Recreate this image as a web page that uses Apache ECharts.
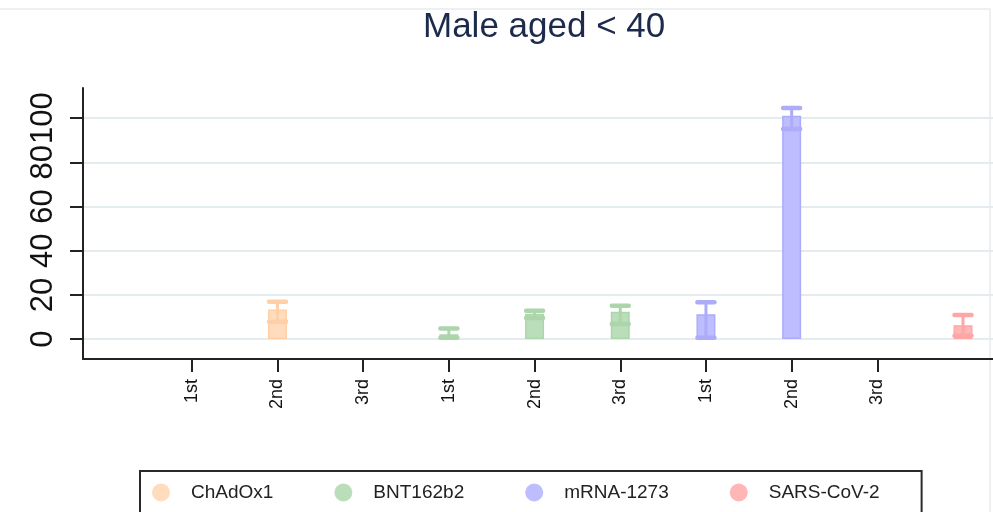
<!DOCTYPE html>
<html>
<head>
<meta charset="utf-8">
<script src="https://cdn.jsdelivr.net/npm/echarts@6/dist/echarts.min.js"></script>
<style>
html,body{margin:0;padding:0;background:#fff;}
#chart{width:993px;height:512px;}
</style>
</head>
<body>
<div id="chart"></div>
<script>
// ---- data ----
const titleText = 'Male aged < 40';
const tickLabels = ['1st', '2nd', '3rd', '1st', '2nd', '3rd', '1st', '2nd', '3rd'];
const yTicks = [0, 20, 40, 60, 80, 100];
const seriesNames = ['ChAdOx1', 'BNT162b2', 'mRNA-1273', 'SARS-CoV-2'];

const chadox1Values = [null, 13.4, null];
const chadox1Lower  = [null, 7.8, null];
const chadox1Upper  = [null, 16.9, null];

const bnt162b2Values = [2.2, 11.5, 12.4];
const bnt162b2Lower  = [0.6, 9.6, 6.8];
const bnt162b2Upper  = [4.8, 12.8, 15.1];

const mrna1273Values = [11.3, 101, null];
const mrna1273Lower  = [0.6, 95, null];
const mrna1273Upper  = [16.7, 104.5, null];

const sarsValues = [6.3];
const sarsLower  = [1.5];
const sarsUpper  = [10.9];

// ---- styles ----
const fills = ['#ffdcbd', '#badeba', '#bdbdff', '#ffb6b6'];
const edges = ['#ffd0a8', '#acd5ac', '#acacf8', '#ffa6a6'];

const groups = [
  [chadox1Values, chadox1Lower, chadox1Upper],
  [bnt162b2Values, bnt162b2Lower, bnt162b2Upper],
  [mrna1273Values, mrna1273Lower, mrna1273Upper],
  [sarsValues, sarsLower, sarsUpper]
];

const series = [];
groups.forEach(function (g, gi) {
  const bars = [], errs = [];
  g[0].forEach(function (v, i) {
    const pos = gi * 3 + i + 1;
    if (v !== null) {
      bars.push([pos, v]);
      errs.push([pos, g[1][i], g[2][i]]);
    }
  });
  series.push({
    name: seriesNames[gi], type: 'bar', data: bars, barWidth: 19, barGap: '-100%',
    itemStyle: { color: fills[gi], borderColor: edges[gi], borderWidth: 1.5 },
    z: 2
  });
  series.push({
    name: seriesNames[gi], type: 'custom', data: errs, z: 3,
    encode: { x: 0, y: [1, 2] },
    itemStyle: { color: fills[gi] },
    renderItem: function (params, api) {
      const x = api.value(0);
      const lo = api.coord([x, api.value(1)]);
      const hi = api.coord([x, api.value(2)]);
      const hw = 8.5;
      const c = edges[gi];
      return {
        type: 'group',
        children: [
          { type: 'line', shape: { x1: lo[0], y1: lo[1], x2: hi[0], y2: hi[1] }, style: { stroke: c, lineWidth: 3 } },
          { type: 'line', shape: { x1: hi[0] - hw, y1: hi[1], x2: hi[0] + hw, y2: hi[1] }, style: { stroke: c, lineWidth: 4.5, lineCap: 'round' } },
          { type: 'line', shape: { x1: lo[0] - hw, y1: lo[1], x2: lo[0] + hw, y2: lo[1] }, style: { stroke: c, lineWidth: 4.5, lineCap: 'round' } }
        ]
      };
    }
  });
});

const xTickPositions = tickLabels.map(function (_, i) { return i + 1; });

const chart = echarts.init(document.getElementById('chart'));
chart.setOption({
  backgroundColor: '#ffffff',
  animation: false,
  textStyle: { fontFamily: 'Liberation Sans, Arial, sans-serif' },
  title: {
    text: titleText, left: 418, top: 5,
    textStyle: { fontSize: 35, fontWeight: 'normal', color: '#1c2a4b', fontFamily: 'Liberation Sans, Arial, sans-serif' }
  },
  grid: { left: 83, right: 0, top: 88, bottom: 153 },
  legend: {
    data: seriesNames,
    left: 140, top: 471,
    icon: 'circle', itemWidth: 20, itemHeight: 18, itemGap: 61,
    padding: [12, 42, 40, 12],
    borderColor: '#2a2a2a', borderWidth: 2, backgroundColor: '#fff',
    textStyle: { fontSize: 19, color: '#222', padding: [0, 0, 0, 15], fontFamily: 'Liberation Sans, Arial, sans-serif' },
    itemStyle: { borderWidth: 0 }
  },
  xAxis: {
    type: 'value', min: -0.27, max: 10.35,
    axisLine: { show: true, onZero: false, lineStyle: { color: '#222', width: 2 } },
    axisTick: { show: true, customValues: xTickPositions, length: 13, lineStyle: { color: '#222', width: 2 } },
    axisLabel: {
      customValues: xTickPositions, rotate: 90, fontSize: 18, margin: 20, color: '#111',
      formatter: function (v) { return tickLabels[Math.round(v) - 1] || ''; }
    },
    splitLine: { show: false }
  },
  yAxis: {
    type: 'value', min: -9, max: 113.6,
    axisLine: { show: true, onZero: false, lineStyle: { color: '#222', width: 2 } },
    axisTick: { show: true, customValues: yTicks, length: 13, lineStyle: { color: '#222', width: 2 } },
    axisLabel: { customValues: yTicks, rotate: 90, fontSize: 31, margin: 24, color: '#111' },
    splitLine: { show: true, lineStyle: { color: '#e4ecef', width: 2 } }
  },
  graphic: [{
    type: 'rect', shape: { x: -5, y: 9, width: 995, height: 520 },
    style: { fill: 'none', stroke: '#e6ecef', lineWidth: 1.5 }, silent: true, z: -1
  }],
  series: series
});
</script>
</body>
</html>
